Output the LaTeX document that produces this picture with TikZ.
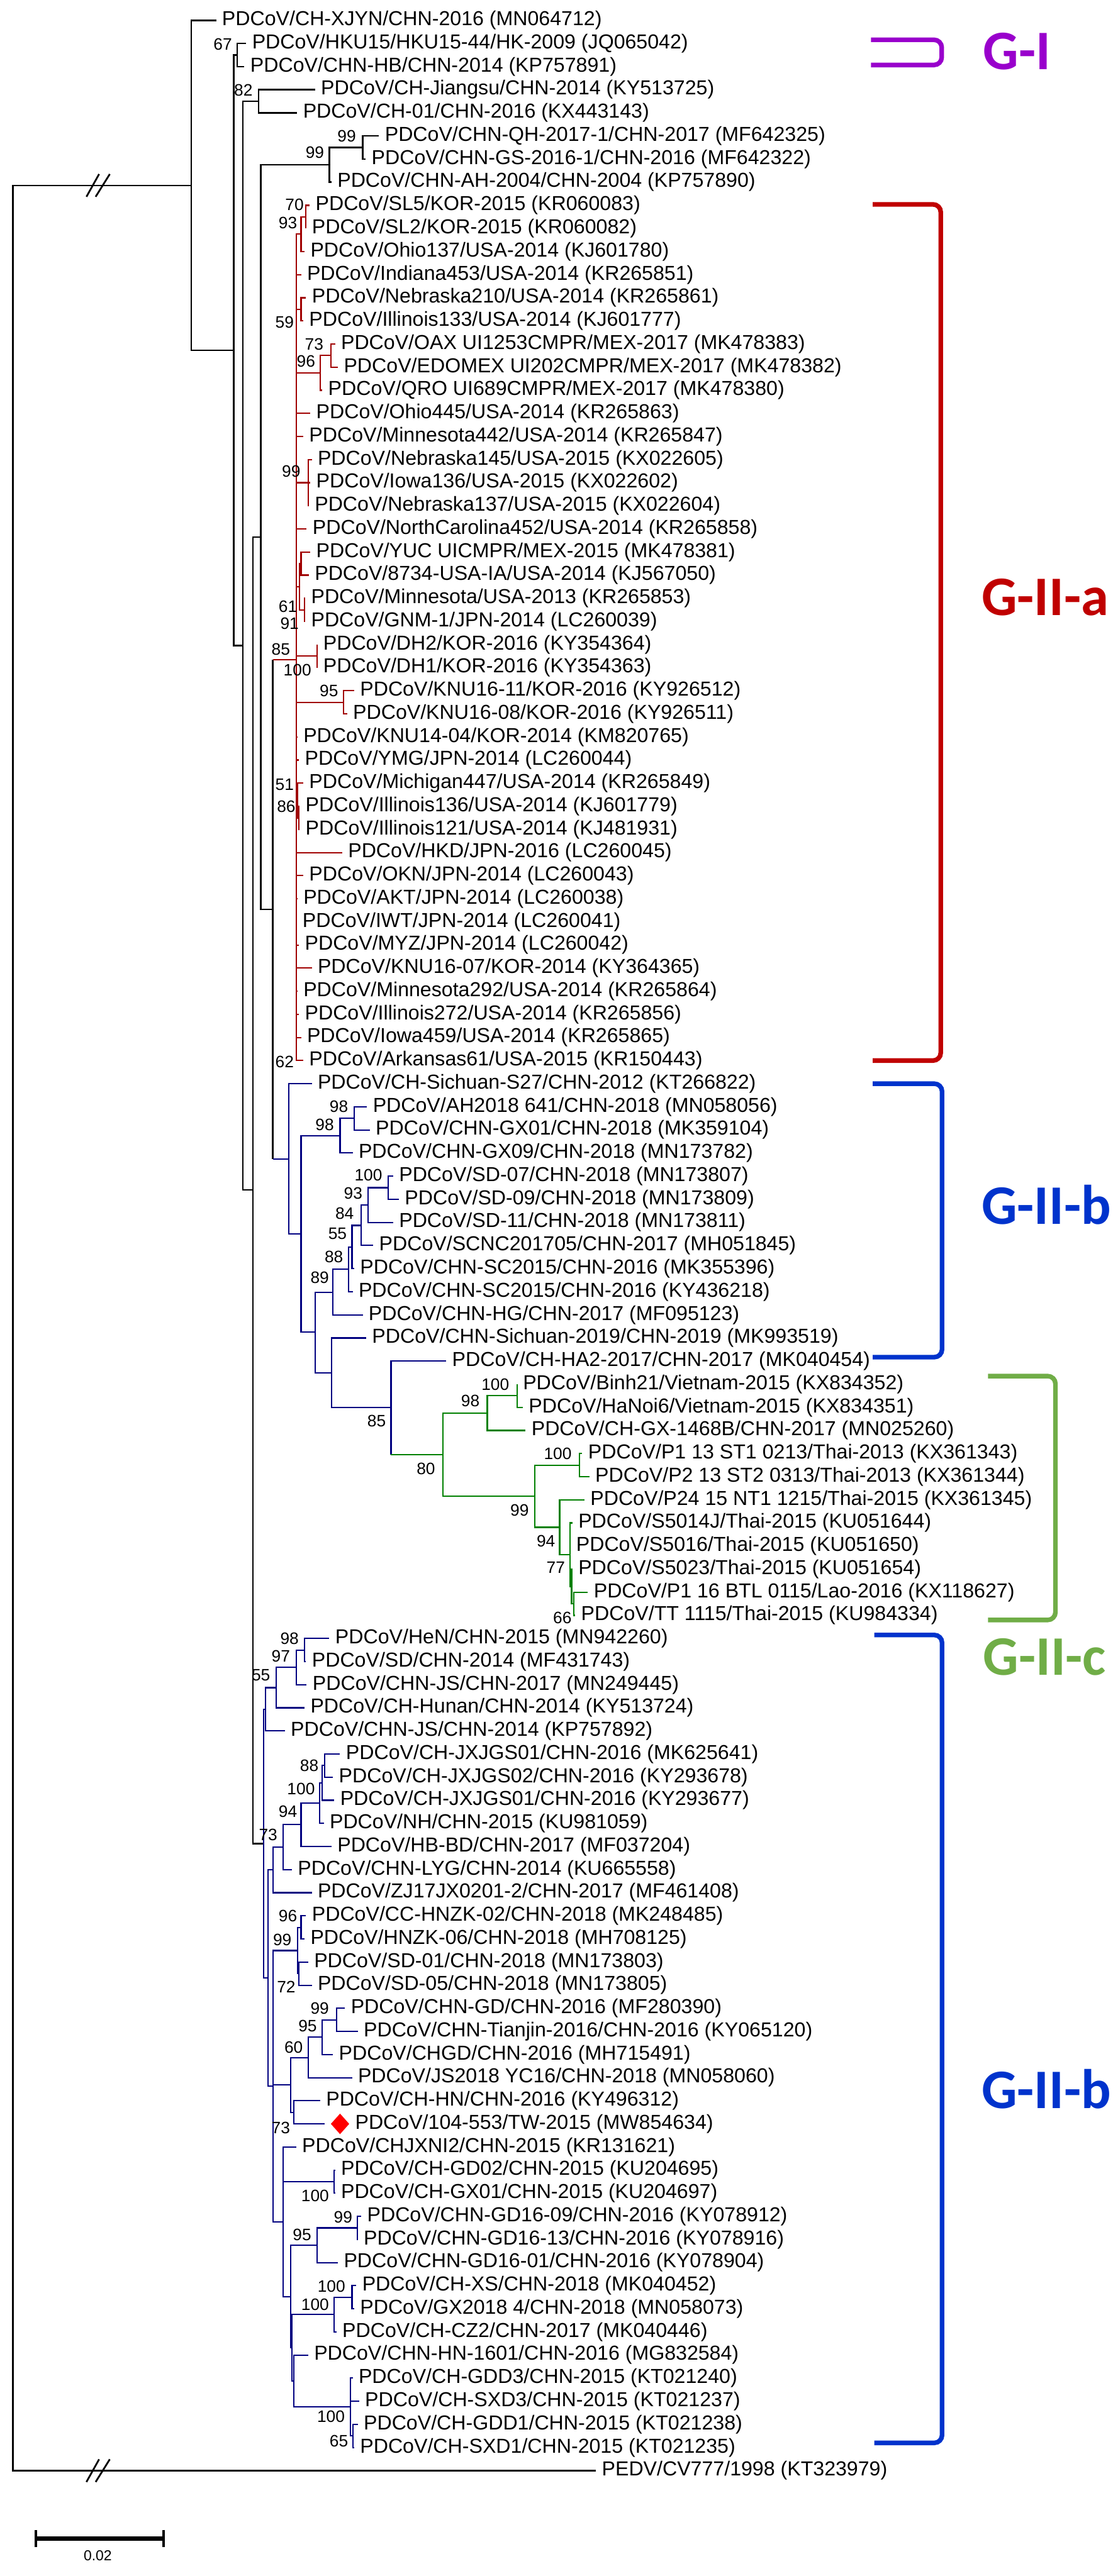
\documentclass[tikz,border=0pt]{standalone}
\usepackage{fontspec}
\setmainfont{Liberation Sans}
\newfontfamily\cladefont{Carlito}
\usepackage{tikz}
\usetikzlibrary{shapes.geometric}
\definecolor{pdred}{HTML}{A00000}
\definecolor{pdblue}{HTML}{000080}
\definecolor{pdgreen}{HTML}{008000}
\definecolor{cgI}{HTML}{9900CC}
\definecolor{cgIIa}{HTML}{C00000}
\definecolor{cgIIb}{HTML}{0033CC}
\definecolor{cgIIc}{HTML}{70AD47}

\begin{document}
\begin{tikzpicture}[
  x=0.03cm, y=-0.4221cm,
  leaf/.style={anchor=west, inner xsep=2.9pt, inner ysep=0pt,
    font=\fontsize{10.5}{12}\selectfont},
  boot/.style={anchor=east, inner sep=0pt,
    font=\fontsize{8.6}{10}\selectfont},
  brblack/.style={line width=0.8pt, draw=black},
  brred/.style={line width=0.7pt, draw=pdred},
  brblue/.style={line width=0.7pt, draw=pdblue},
  brgreen/.style={line width=0.7pt, draw=pdgreen},
  bracket/.style={line width=2.4pt, rounded corners=4pt},
  clade/.style={anchor=west, inner sep=0pt,
    font=\cladefont\bfseries\fontsize{29}{30}\selectfont},
  breakmark/.style={line width=0.9pt}
]
\useasboundingbox (0,0.1187) rectangle (677,111.56);

% internal nodes (x in px, y in rows)
\coordinate (root) at (7.8,57.57);
\coordinate (nA) at (116.4,8.14);
\coordinate (nB) at (142.2,15.28);
\coordinate (nGI) at (144.4,2.5);
\coordinate (nC) at (147.8,28.05);
\coordinate (n82) at (157.3,4.5);
\coordinate (nF) at (153.9,51.6);
\coordinate (nE) at (158.6,23.36);
\coordinate (nD) at (200.4,7.25);
\coordinate (nQG) at (220.7,6.5);
\coordinate (nH) at (166.0,39.46);
% G-II-a
\coordinate (nGIIa) at (180.2,28.66);
\coordinate (n93) at (183.2,10.25);
\coordinate (n70) at (186.2,9.5);
\coordinate (n59) at (183.2,13.5);
\coordinate (n96) at (194.8,16.25);
\coordinate (n73) at (201.5,15.5);
\coordinate (n99a) at (187.5,21);
\coordinate (n91) at (182.3,25.5);
\coordinate (nYU) at (183.2,24.5);
\coordinate (n61) at (185.3,26.5);
\coordinate (nDH) at (193.1,28.5);
\coordinate (n95a) at (209.0,30.5);
\coordinate (n51) at (181.0,34.75);
\coordinate (n86) at (181.9,35.5);
% G-II-b (upper)
\coordinate (nI) at (175.8,50.25);
\coordinate (nJ) at (183.2,53.49);
\coordinate (nK) at (206.9,49.25);
\coordinate (nAG) at (215.5,48.5);
\coordinate (nL) at (191.8,57.74);
\coordinate (nM) at (202.6,56.02);
\coordinate (n88u) at (212.0,55.03);
\coordinate (n55u) at (214.2,54.06);
\coordinate (n84u) at (219.8,53.13);
\coordinate (n93u) at (224.1,52.25);
\coordinate (n100u) at (236.2,51.5);
\coordinate (nN) at (201.7,59.5);
\coordinate (nO) at (237.9,61.0);
% G-II-c
\coordinate (nGIIc) at (269.4,63.05);
\coordinate (nVN) at (296.5,61.25);
\coordinate (nBH) at (314.6,60.5);
\coordinate (nTH) at (325.4,64.84);
\coordinate (n100g) at (352.6,63.5);
\coordinate (n99g) at (340.5,66.19);
\coordinate (n94g) at (347.0,67.375);
\coordinate (n77g) at (347.8,68.75);
\coordinate (n66g) at (349.0,69.5);
% G-II-b (lower)
\coordinate (nG) at (160.3,79.875);
\coordinate (nJS) at (161.6,74.06);
\coordinate (n55b) at (168.1,73.13);
\coordinate (n97) at (180.2,72.25);
\coordinate (n98b) at (185.3,71.5);
\coordinate (nW) at (163.0,85.69);
\coordinate (nZ) at (166.0,81.0);
\coordinate (nY) at (172.4,80.03);
\coordinate (nX) at (183.2,79.05);
\coordinate (n94b) at (194.4,78.13);
\coordinate (n100c) at (196.1,77.25);
\coordinate (n88b) at (197.4,76.5);
\coordinate (nV3) at (166.0,90.37);
\coordinate (n99b) at (181.0,84.5);
\coordinate (n96b) at (183.2,83.5);
\coordinate (n72) at (181.9,85.5);
\coordinate (nT73) at (176.7,90.31);
\coordinate (n60) at (187.5,89.13);
\coordinate (n95c) at (196.1,88.25);
\coordinate (n99c) at (204.7,87.5);
\coordinate (n73a) at (178.9,91.5);
\coordinate (nS) at (172.4,96.24);
\coordinate (n100gd) at (203.4,94.5);
\coordinate (nR1) at (176.7,99.47);
\coordinate (n95b) at (193.1,97.25);
\coordinate (n99d) at (217.5,96.5);
\coordinate (nR1b) at (177.5,101.69);
\coordinate (n100e) at (203.4,100.25);
\coordinate (n100d) at (214.2,99.5);
\coordinate (nR2) at (178.9,103.13);
\coordinate (n100f) at (213.3,104.25);
\coordinate (n65) at (214.6,105.5);

% leaves
\node[leaf] (l1) at (131.5,1) {PDCoV/CH-XJYN/CHN-2016 (MN064712)};
\node[leaf] (l2) at (149.8,2) {PDCoV/HKU15/HKU15-44/HK-2009 (JQ065042)};
\node[leaf] (l3) at (148.7,3) {PDCoV/CHN-HB/CHN-2014 (KP757891)};
\node[leaf] (l4) at (191.7,4) {PDCoV/CH-Jiangsu/CHN-2014 (KY513725)};
\node[leaf] (l5) at (180.8,5) {PDCoV/CH-01/CHN-2016 (KX443143)};
\node[leaf] (l6) at (230.6,6) {PDCoV/CHN-QH-2017-1/CHN-2017 (MF642325)};
\node[leaf] (l7) at (222.5,7) {PDCoV/CHN-GS-2016-1/CHN-2016 (MF642322)};
\node[leaf] (l8) at (201.7,8) {PDCoV/CHN-AH-2004/CHN-2004 (KP757890)};
\node[leaf] (l9) at (188.4,9) {PDCoV/SL5/KOR-2015 (KR060083)};
\node[leaf] (l10) at (186.2,10) {PDCoV/SL2/KOR-2015 (KR060082)};
\node[leaf] (l11) at (185.3,11) {PDCoV/Ohio137/USA-2014 (KJ601780)};
\node[leaf] (l12) at (183.2,12) {PDCoV/Indiana453/USA-2014 (KR265851)};
\node[leaf] (l13) at (186.2,13) {PDCoV/Nebraska210/USA-2014 (KR265861)};
\node[leaf] (l14) at (184.5,14) {PDCoV/Illinois133/USA-2014 (KJ601777)};
\node[leaf] (l15) at (203.9,15) {PDCoV/OAX UI1253CMPR/MEX-2017 (MK478383)};
\node[leaf] (l16) at (205.6,16) {PDCoV/EDOMEX UI202CMPR/MEX-2017 (MK478382)};
\node[leaf] (l17) at (196.1,17) {PDCoV/QRO UI689CMPR/MEX-2017 (MK478380)};
\node[leaf] (l18) at (188.8,18) {PDCoV/Ohio445/USA-2014 (KR265863)};
\node[leaf] (l19) at (184.5,19) {PDCoV/Minnesota442/USA-2014 (KR265847)};
\node[leaf] (l20) at (189.7,20) {PDCoV/Nebraska145/USA-2015 (KX022605)};
\node[leaf] (l21) at (188.8,21) {PDCoV/Iowa136/USA-2015 (KX022602)};
\node[leaf] (l22) at (187.9,22) {PDCoV/Nebraska137/USA-2015 (KX022604)};
\node[leaf] (l23) at (186.6,23) {PDCoV/NorthCarolina452/USA-2014 (KR265858)};
\node[leaf] (l24) at (188.8,24) {PDCoV/YUC UICMPR/MEX-2015 (MK478381)};
\node[leaf] (l25) at (187.9,25) {PDCoV/8734-USA-IA/USA-2014 (KJ567050)};
\node[leaf] (l26) at (185.7,26) {PDCoV/Minnesota/USA-2013 (KR265853)};
\node[leaf] (l27) at (185.7,27) {PDCoV/GNM-1/JPN-2014 (LC260039)};
\node[leaf] (l28) at (193.1,28) {PDCoV/DH2/KOR-2016 (KY354364)};
\node[leaf] (l29) at (193.1,29) {PDCoV/DH1/KOR-2016 (KY354363)};
\node[leaf] (l30) at (215.5,30) {PDCoV/KNU16-11/KOR-2016 (KY926512)};
\node[leaf] (l31) at (211.2,31) {PDCoV/KNU16-08/KOR-2016 (KY926511)};
\node[leaf] (l32) at (181.0,32) {PDCoV/KNU14-04/KOR-2014 (KM820765)};
\node[leaf] (l33) at (181.9,33) {PDCoV/YMG/JPN-2014 (LC260044)};
\node[leaf] (l34) at (184.5,34) {PDCoV/Michigan447/USA-2014 (KR265849)};
\node[leaf] (l35) at (182.3,35) {PDCoV/Illinois136/USA-2014 (KJ601779)};
\node[leaf] (l36) at (182.3,36) {PDCoV/Illinois121/USA-2014 (KJ481931)};
\node[leaf] (l37) at (208.2,37) {PDCoV/HKD/JPN-2016 (LC260045)};
\node[leaf] (l38) at (184.5,38) {PDCoV/OKN/JPN-2014 (LC260043)};
\node[leaf] (l39) at (181.0,39) {PDCoV/AKT/JPN-2014 (LC260038)};
\node[leaf] (l40) at (180.5,40) {PDCoV/IWT/JPN-2014 (LC260041)};
\node[leaf] (l41) at (181.9,41) {PDCoV/MYZ/JPN-2014 (LC260042)};
\node[leaf] (l42) at (189.7,42) {PDCoV/KNU16-07/KOR-2014 (KY364365)};
\node[leaf] (l43) at (181.0,43) {PDCoV/Minnesota292/USA-2014 (KR265864)};
\node[leaf] (l44) at (181.9,44) {PDCoV/Illinois272/USA-2014 (KR265856)};
\node[leaf] (l45) at (183.2,45) {PDCoV/Iowa459/USA-2014 (KR265865)};
\node[leaf] (l46) at (184.5,46) {PDCoV/Arkansas61/USA-2015 (KR150443)};
\node[leaf] (l47) at (189.7,47) {PDCoV/CH-Sichuan-S27/CHN-2012 (KT266822)};
\node[leaf] (l48) at (223.3,48) {PDCoV/AH2018 641/CHN-2018 (MN058056)};
\node[leaf] (l49) at (225.0,49) {PDCoV/CHN-GX01/CHN-2018 (MK359104)};
\node[leaf] (l50) at (214.6,50) {PDCoV/CHN-GX09/CHN-2018 (MN173782)};
\node[leaf] (l51) at (239.2,51) {PDCoV/SD-07/CHN-2018 (MN173807)};
\node[leaf] (l52) at (242.7,52) {PDCoV/SD-09/CHN-2018 (MN173809)};
\node[leaf] (l53) at (239.2,53) {PDCoV/SD-11/CHN-2018 (MN173811)};
\node[leaf] (l54) at (227.1,54) {PDCoV/SCNC201705/CHN-2017 (MH051845)};
\node[leaf] (l55) at (215.5,55) {PDCoV/CHN-SC2015/CHN-2016 (MK355396)};
\node[leaf] (l56) at (214.6,56) {PDCoV/CHN-SC2015/CHN-2016 (KY436218)};
\node[leaf] (l57) at (220.7,57) {PDCoV/CHN-HG/CHN-2017 (MF095123)};
\node[leaf] (l58) at (222.8,58) {PDCoV/CHN-Sichuan-2019/CHN-2019 (MK993519)};
\node[leaf] (l59) at (271.5,59) {PDCoV/CH-HA2-2017/CHN-2017 (MK040454)};
\node[leaf] (l60) at (314.6,60) {PDCoV/Binh21/Vietnam-2015 (KX834352)};
\node[leaf] (l61) at (318.1,61) {PDCoV/HaNoi6/Vietnam-2015 (KX834351)};
\node[leaf] (l62) at (319.8,62) {PDCoV/CH-GX-1468B/CHN-2017 (MN025260)};
\node[leaf] (l63) at (354.3,63) {PDCoV/P1 13 ST1 0213/Thai-2013 (KX361343)};
\node[leaf] (l64) at (358.6,64) {PDCoV/P2 13 ST2 0313/Thai-2013 (KX361344)};
\node[leaf] (l65) at (355.6,65) {PDCoV/P24 15 NT1 1215/Thai-2015 (KX361345)};
\node[leaf] (l66) at (348.3,66) {PDCoV/S5014J/Thai-2015 (KU051644)};
\node[leaf] (l67) at (347.0,67) {PDCoV/S5016/Thai-2015 (KU051650)};
\node[leaf] (l68) at (348.3,68) {PDCoV/S5023/Thai-2015 (KU051654)};
\node[leaf] (l69) at (357.7,69) {PDCoV/P1 16 BTL 0115/Lao-2016 (KX118627)};
\node[leaf] (l70) at (350.0,70) {PDCoV/TT 1115/Thai-2015 (KU984334)};
\node[leaf] (l71) at (200.4,71) {PDCoV/HeN/CHN-2015 (MN942260)};
\node[leaf] (l72) at (186.2,72) {PDCoV/SD/CHN-2014 (MF431743)};
\node[leaf] (l73) at (186.6,73) {PDCoV/CHN-JS/CHN-2017 (MN249445)};
\node[leaf] (l74) at (185.3,74) {PDCoV/CH-Hunan/CHN-2014 (KY513724)};
\node[leaf] (l75) at (173.3,75) {PDCoV/CHN-JS/CHN-2014 (KP757892)};
\node[leaf] (l76) at (206.9,76) {PDCoV/CH-JXJGS01/CHN-2016 (MK625641)};
\node[leaf] (l77) at (202.6,77) {PDCoV/CH-JXJGS02/CHN-2016 (KY293678)};
\node[leaf] (l78) at (203.4,78) {PDCoV/CH-JXJGS01/CHN-2016 (KY293677)};
\node[leaf] (l79) at (197.0,79) {PDCoV/NH/CHN-2015 (KU981059)};
\node[leaf] (l80) at (201.7,80) {PDCoV/HB-BD/CHN-2017 (MF037204)};
\node[leaf] (l81) at (177.6,81) {PDCoV/CHN-LYG/CHN-2014 (KU665558)};
\node[leaf] (l82) at (189.7,82) {PDCoV/ZJ17JX0201-2/CHN-2017 (MF461408)};
\node[leaf] (l83) at (186.2,83) {PDCoV/CC-HNZK-02/CHN-2018 (MK248485)};
\node[leaf] (l84) at (185.3,84) {PDCoV/HNZK-06/CHN-2018 (MH708125)};
\node[leaf] (l85) at (187.5,85) {PDCoV/SD-01/CHN-2018 (MN173803)};
\node[leaf] (l86) at (189.7,86) {PDCoV/SD-05/CHN-2018 (MN173805)};
\node[leaf] (l87) at (209.9,87) {PDCoV/CHN-GD/CHN-2016 (MF280390)};
\node[leaf] (l88) at (217.7,88) {PDCoV/CHN-Tianjin-2016/CHN-2016 (KY065120)};
\node[leaf] (l89) at (202.6,89) {PDCoV/CHGD/CHN-2016 (MH715491)};
\node[leaf] (l90) at (214.2,90) {PDCoV/JS2018 YC16/CHN-2018 (MN058060)};
\node[leaf] (l91) at (194.8,91) {PDCoV/CH-HN/CHN-2016 (KY496312)};
\coordinate (t92) at (197.4,92);
\node[diamond, fill=red, inner sep=0pt, minimum width=0.34cm,
  minimum height=0.38cm] (twmark) at (206.9,92) {};
\node[leaf] (l92) at (212.5,92) {PDCoV/104-553/TW-2015 (MW854634)};
\node[leaf] (l93) at (180.2,93) {PDCoV/CHJXNI2/CHN-2015 (KR131621)};
\node[leaf] (l94) at (203.9,94) {PDCoV/CH-GD02/CHN-2015 (KU204695)};
\node[leaf] (l95) at (203.9,95) {PDCoV/CH-GX01/CHN-2015 (KU204697)};
\node[leaf] (l96) at (219.8,96) {PDCoV/CHN-GD16-09/CHN-2016 (KY078912)};
\node[leaf] (l97) at (217.7,97) {PDCoV/CHN-GD16-13/CHN-2016 (KY078916)};
\node[leaf] (l98) at (205.6,98) {PDCoV/CHN-GD16-01/CHN-2016 (KY078904)};
\node[leaf] (l99) at (216.8,99) {PDCoV/CH-XS/CHN-2018 (MK040452)};
\node[leaf] (l100) at (215.5,100) {PDCoV/GX2018 4/CHN-2018 (MN058073)};
\node[leaf] (l101) at (204.7,101) {PDCoV/CH-CZ2/CHN-2017 (MK040446)};
\node[leaf] (l102) at (187.5,102) {PDCoV/CHN-HN-1601/CHN-2016 (MG832584)};
\node[leaf] (l103) at (214.6,103) {PDCoV/CH-GDD3/CHN-2015 (KT021240)};
\node[leaf] (l104) at (218.5,104) {PDCoV/CH-SXD3/CHN-2015 (KT021237)};
\node[leaf] (l105) at (217.7,105) {PDCoV/CH-GDD1/CHN-2015 (KT021238)};
\node[leaf] (l106) at (215.5,106) {PDCoV/CH-SXD1/CHN-2015 (KT021235)};
\node[leaf] (l107) at (362.6,107) {PEDV/CV777/1998 (KT323979)};

% black backbone
\draw[brblack] (root) |- (nA) (root) |- (l107.west);
\draw[brblack] (nA) |- (l1.west) (nA) |- (nB);
\draw[brblack] (nB) |- (nGI) (nB) |- (nC);
\draw[brblack] (nGI) |- (l2.west) (nGI) |- (l3.west);
\draw[brblack] (nC) |- (n82) (nC) |- (nF);
\draw[brblack] (n82) |- (l4.west) (n82) |- (l5.west);
\draw[brblack] (nF) |- (nE) (nF) |- (nG);
\draw[brblack] (nE) |- (nD) (nE) |- (nH);
\draw[brblack] (nD) |- (nQG) (nD) |- (l8.west);
\draw[brblack] (nQG) |- (l6.west) (nQG) |- (l7.west);
\draw[brblack] (nH) -- (nH |- nGIIa) (nH) -- (nH |- nI);
\draw[brred] (nH |- nGIIa) -- (nGIIa);
\draw[brblue] (nH |- nI) -- (nI);

% break marks
\draw[breakmark] (52.6,8.63) -- (60.3,7.65) (58.2,8.63) -- (66.8,7.65);
\draw[breakmark] (52.6,107.49) -- (60.3,106.51) (58.2,107.49) -- (66.8,106.51);

% G-II-a
\draw[brred] (nGIIa) |- (n93) (nGIIa) |- (l12.west) (nGIIa) |- (n59)
  (nGIIa) |- (n96) (nGIIa) |- (l18.west) (nGIIa) |- (l19.west)
  (nGIIa) |- (n99a) (nGIIa) |- (l23.west) (nGIIa) |- (n91)
  (nGIIa) |- (nDH) (nGIIa) |- (n95a) (nGIIa) |- (l32.west)
  (nGIIa) |- (l33.west) (nGIIa) |- (n51) (nGIIa) |- (l37.west)
  (nGIIa) |- (l38.west) (nGIIa) |- (l39.west) (nGIIa) |- (l40.west)
  (nGIIa) |- (l41.west) (nGIIa) |- (l42.west) (nGIIa) |- (l43.west)
  (nGIIa) |- (l44.west) (nGIIa) |- (l45.west) (nGIIa) |- (l46.west);
\draw[brred] (n93) |- (n70) (n93) |- (l11.west);
\draw[brred] (n70) |- (l9.west) (n70) |- (l10.west);
\draw[brred] (n59) |- (l13.west) (n59) |- (l14.west);
\draw[brred] (n96) |- (n73) (n96) |- (l17.west);
\draw[brred] (n73) |- (l15.west) (n73) |- (l16.west);
\draw[brred] (n99a) |- (l20.west) (n99a) |- (l21.west) (n99a) |- (l22.west);
\draw[brred] (n91) |- (nYU) (n91) |- (n61);
\draw[brred] (nYU) |- (l24.west) (nYU) |- (l25.west);
\draw[brred] (n61) |- (l26.west) (n61) |- (l27.west);
\draw[brred] (nDH) |- (l28.west) (nDH) |- (l29.west);
\draw[brred] (n95a) |- (l30.west) (n95a) |- (l31.west);
\draw[brred] (n51) |- (l34.west) (n51) |- (n86);
\draw[brred] (n86) |- (l35.west) (n86) |- (l36.west);

% G-II-b upper
\draw[brblue] (nI) |- (l47.west) (nI) |- (nJ);
\draw[brblue] (nJ) |- (nK) (nJ) |- (nL);
\draw[brblue] (nK) |- (nAG) (nK) |- (l50.west);
\draw[brblue] (nAG) |- (l48.west) (nAG) |- (l49.west);
\draw[brblue] (nL) |- (nM) (nL) |- (nN);
\draw[brblue] (nM) |- (n88u) (nM) |- (l57.west);
\draw[brblue] (n88u) |- (n55u) (n88u) |- (l56.west);
\draw[brblue] (n55u) |- (n84u) (n55u) |- (l55.west);
\draw[brblue] (n84u) |- (n93u) (n84u) |- (l54.west);
\draw[brblue] (n93u) |- (n100u) (n93u) |- (l53.west);
\draw[brblue] (n100u) |- (l51.west) (n100u) |- (l52.west);
\draw[brblue] (nN) |- (l58.west) (nN) |- (nO);
\draw[brblue] (nO) |- (l59.west) (nO) -- (nO |- nGIIc);

% G-II-c
\draw[brgreen] (nO |- nGIIc) -- (nGIIc);
\draw[brgreen] (nGIIc) |- (nVN) (nGIIc) |- (nTH);
\draw[brgreen] (nVN) |- (nBH) (nVN) |- (l62.west);
\draw[brgreen] (nBH) |- (l60.west) (nBH) |- (l61.west);
\draw[brgreen] (nTH) |- (n100g) (nTH) |- (n99g);
\draw[brgreen] (n100g) |- (l63.west) (n100g) |- (l64.west);
\draw[brgreen] (n99g) |- (l65.west) (n99g) |- (n94g);
\draw[brgreen] (n94g) |- (l66.west) (n94g) |- (l67.west) (n94g) |- (n77g);
\draw[brgreen] (n77g) |- (l68.west) (n77g) |- (n66g);
\draw[brgreen] (n66g) |- (l69.west) (n66g) |- (l70.west);

% G-II-b lower
\draw[brblue] (nG) |- (nJS) (nG) |- (nW);
\draw[brblue] (nJS) |- (n55b) (nJS) |- (l75.west);
\draw[brblue] (n55b) |- (n97) (n55b) |- (l74.west);
\draw[brblue] (n97) |- (n98b) (n97) |- (l73.west);
\draw[brblue] (n98b) |- (l71.west) (n98b) |- (l72.west);
\draw[brblue] (nW) |- (nZ) (nW) |- (nV3);
\draw[brblue] (nZ) |- (nY) (nZ) |- (l82.west);
\draw[brblue] (nY) |- (nX) (nY) |- (l81.west);
\draw[brblue] (nX) |- (n94b) (nX) |- (l80.west);
\draw[brblue] (n94b) |- (n100c) (n94b) |- (l79.west);
\draw[brblue] (n100c) |- (n88b) (n100c) |- (l78.west);
\draw[brblue] (n88b) |- (l76.west) (n88b) |- (l77.west);
\draw[brblue] (nV3) |- (n99b) (nV3) |- (nT73) (nV3) |- (nS);
\draw[brblue] (n99b) |- (n96b) (n99b) |- (n72);
\draw[brblue] (n96b) |- (l83.west) (n96b) |- (l84.west);
\draw[brblue] (n72) |- (l85.west) (n72) |- (l86.west);
\draw[brblue] (nT73) |- (n60) (nT73) |- (n73a);
\draw[brblue] (n60) |- (n95c) (n60) |- (l90.west);
\draw[brblue] (n95c) |- (n99c) (n95c) |- (l89.west);
\draw[brblue] (n99c) |- (l87.west) (n99c) |- (l88.west);
\draw[brblue] (n73a) |- (l91.west) (n73a) |- (t92);
\draw[brblue] (nS) |- (l93.west) (nS) |- (n100gd) (nS) |- (nR1);
\draw[brblue] (n100gd) |- (l94.west) (n100gd) |- (l95.west);
\draw[brblue] (nR1) |- (n95b) (nR1) |- (nR1b);
\draw[brblue] (n95b) |- (n99d) (n95b) |- (l98.west);
\draw[brblue] (n99d) |- (l96.west) (n99d) |- (l97.west);
\draw[brblue] (nR1b) |- (n100e) (nR1b) |- (nR2);
\draw[brblue] (n100e) |- (n100d) (n100e) |- (l101.west);
\draw[brblue] (n100d) |- (l99.west) (n100d) |- (l100.west);
\draw[brblue] (nR2) |- (l102.west) (nR2) |- (n100f);
\draw[brblue] (n100f) |- (l103.west) (n100f) |- (l104.west) (n100f) |- (n65);
\draw[brblue] (n65) |- (l105.west) (n65) |- (l106.west);

% bootstrap values
\node[boot] (b67) at (141.4,2.03) {67};
\node[boot] (b82) at (153.9,4.01) {82};
\node[boot] (b99q) at (216.8,6.0) {99};
\node[boot] (b99d) at (197.4,6.71) {99};
\node[boot] (b70) at (185,8.97) {70};
\node[boot] (b93) at (181,9.75) {93};
\node[boot] (b59) at (179,14.07) {59};
\node[boot] (b73) at (197,15.0) {73};
\node[boot] (b96) at (192,15.74) {96};
\node[boot] (b99a) at (183,20.5) {99};
\node[boot] (b61) at (181,26.35) {61};
\node[boot] (b91) at (182,27.1) {91};
\node[boot] (b85a) at (176.7,28.2) {85};
\node[boot] (b100dh) at (189.6,29.1) {100};
\node[boot] (b95a) at (206,30.0) {95};
\node[boot] (b51) at (179,34.06) {51};
\node[boot] (b86) at (180,35.0) {86};
\node[boot] (b62) at (179,46.06) {62};
\node[boot] (b98ag) at (212,48.0) {98};
\node[boot] (b98k) at (203.4,48.78) {98};
\node[boot] (b100u) at (232.8,50.96) {100};
\node[boot] (b93u) at (220.7,51.74) {93};
\node[boot] (b84u) at (215.5,52.6) {84};
\node[boot] (b55u) at (211.2,53.5) {55};
\node[boot] (b88u) at (209,54.5) {88};
\node[boot] (b89) at (200.4,55.4) {89};
\node[boot] (b85o) at (235,61.6) {85};
\node[boot] (b100bh) at (310,60.0) {100};
\node[boot] (b98vn) at (292,60.73) {98};
\node[boot] (b80) at (265,63.66) {80};
\node[boot] (b100g) at (348,63.0) {100};
\node[boot] (b99g) at (322,65.46) {99};
\node[boot] (b94g) at (338,66.8) {94};
\node[boot] (b77g) at (344,67.94) {77};
\node[boot] (b66g) at (348,70.1) {66};
\node[boot] (b98l) at (182,71.0) {98};
\node[boot] (b97) at (176.7,71.78) {97};
\node[boot] (b55l) at (164.6,72.6) {55};
\node[boot] (b88l) at (194,76.5) {88};
\node[boot] (b100c) at (191.8,77.5) {100};
\node[boot] (b94l) at (181,78.5) {94};
\node[boot] (b73y) at (169,79.5) {73};
\node[boot] (b96l) at (181,83.0) {96};
\node[boot] (b99b) at (177.6,84.03) {99};
\node[boot] (b72) at (180,86.07) {72};
\node[boot] (b99c) at (200.4,87.0) {99};
\node[boot] (b95c) at (193,87.76) {95};
\node[boot] (b60) at (184.5,88.68) {60};
\node[boot] (b73a) at (176.7,92.18) {73};
\node[boot] (b100gd) at (200.4,95.12) {100};
\node[boot] (b99d2) at (214.6,96.03) {99};
\node[boot] (b95b) at (189.6,96.79) {95};
\node[boot] (b100d) at (210.3,99.03) {100};
\node[boot] (b100e) at (200.4,99.83) {100};
\node[boot] (b100f) at (210,104.67) {100};
\node[boot] (b65) at (212,105.72) {65};

% clade brackets
\draw[bracket, cgI] (530,1.84) -- (573,1.84) -- (573,2.93) -- (530,2.93);
\draw[bracket, cgIIa] (531,8.96) -- (572.4,8.96) -- (572.4,46.0) -- (531,46.0);
\draw[bracket, cgIIb] (531,47.0) -- (573.2,47.0) -- (573.2,58.83) -- (531,58.83);
\draw[bracket, cgIIc] (601.2,59.65) -- (642.2,59.65) -- (642.2,70.2) -- (601.2,70.2);
\draw[bracket, cgIIb] (532,70.85) -- (573.2,70.85) -- (573.2,105.8) -- (532,105.8);
\node[clade, text=cgI] (gI) at (598,2.33) {G-I};
\node[clade, text=cgIIa] (gIIa) at (597,25.95) {G-II-a};
\node[clade, text=cgIIb] (gIIb1) at (597,52.25) {G-II-b};
\node[clade, text=cgIIc] (gIIc) at (598,71.8) {G-II-c};
\node[clade, text=cgIIb] (gIIb2) at (597,90.48) {G-II-b};

% scale bar
\coordinate (sbL) at (21.8,109.94);
\coordinate (sbR) at (99.6,109.94);
\draw[line width=2.4pt] (sbL) -- (sbR);
\draw[line width=1.1pt] ([yshift=0.16cm]sbL) -- ([yshift=-0.16cm]sbL)
  ([yshift=0.16cm]sbR) -- ([yshift=-0.16cm]sbR);
\node[font=\fontsize{7.5}{9}\selectfont, inner sep=0pt] (sblbl) at (59.5,110.67) {0.02};
\end{tikzpicture}
\end{document}
